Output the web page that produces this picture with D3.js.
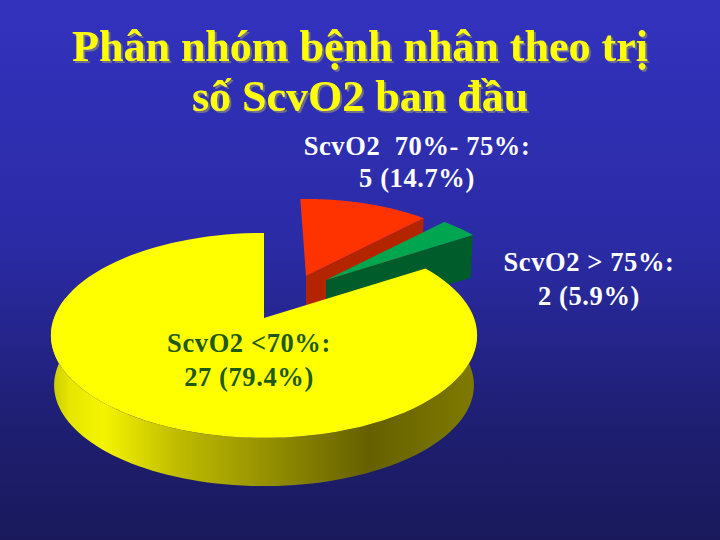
<!DOCTYPE html>
<html><head><meta charset="utf-8">
<style>html,body{margin:0;padding:0;background:#222288}svg{display:block}
text{font-family:"Liberation Serif",serif;font-weight:bold;text-anchor:middle}</style>
<script src="https://cdn.jsdelivr.net/npm/d3@7"></script></head>
<body><svg id="c" width="720" height="540"></svg>
<script>
const titleLines = ["Phân nhóm bệnh nhân theo trị", "số ScvO2 ban đầu"];
const categories = ["ScvO2  70%- 75%:", "ScvO2 > 75%:", "ScvO2 <70%:"];
const counts = [5, 2, 27];
const percents = ["14.7%", "5.9%", "79.4%"];

const svg = d3.select("#c");
const defs = svg.append("defs");
const bg = defs.append("linearGradient").attr("id","bg").attr("x1",0).attr("x2",0).attr("y1",0).attr("y2",1);
[[0,"#3232be"],[0.45,"#2b2ba6"],[0.8,"#1e1e70"],[1,"#19195c"]].forEach(s=>bg.append("stop").attr("offset",s[0]).attr("stop-color",s[1]));
svg.append("rect").attr("width",720).attr("height",540).attr("fill","url(#bg)");

const wall = defs.append("linearGradient").attr("id","wall").attr("gradientUnits","userSpaceOnUse")
  .attr("x1",48).attr("x2",476).attr("y1",0).attr("y2",0);
[[0,"#c4c400"],[0.05,"#e6e600"],[0.13,"#f4f400"],[0.3,"#c0bc00"],[0.55,"#8c8800"],[0.75,"#666000"],[1,"#7f7b00"]]
  .forEach(s=>wall.append("stop").attr("offset",s[0]).attr("stop-color",s[1]));

// Perspective projection of the pie disc
const C = {x:264, y:318, rx:210, ry:99.5, k:0.17};
const deg = Math.PI/180;
// The source chart's 3D view distorts the angles: map pie angle to drawn angle
const warp = d3.scaleLinear().domain([0,53,74,360].map(d=>d*deg)).range([-2,44,57,360].map(d=>d*deg));
function proj(a, r, s){
  const X = Math.sin(a)*r, Y = Math.cos(a)*r, w = 1 + C.k*Y;
  return [s.x + C.rx*s.scale*X/w, s.y - C.ry*s.scale*Y/w];
}
function down(s, d, shrink){ return {x:s.x, y:s.y+d, scale:s.scale*shrink}; }
const line = d3.line();
function arcPts(a0,a1,s){ return d3.range(0,101).map(i=>proj(a0+(a1-a0)*i/100,1,s)); }

const pie = d3.pie().sort(null).value(d=>d);
const arcs = pie(counts);
const sliceStyle = [
  {top:"#ff3300", side:"#b32400", x:306, y:276, scale:.906, depth:44},
  {top:"#00a64f", side:"#005c2b", x:326, y:280, scale:.91,  depth:42},
  {top:"#ffff00", side:"url(#wall)", x:264, y:318, scale:1, depth:50}
];
const g = svg.append("g");
arcs.forEach((d,i)=>{
  const st = sliceStyle[i];
  const a0 = warp(d.startAngle), a1 = warp(d.endAngle);
  const lo = down(st, st.depth, .985);
  const top = arcPts(a0,a1,st);
  if(i<2){
    const e = proj(a1,1,st), eb = proj(a1,1,lo), c = [st.x,st.y], cb=[lo.x,lo.y];
    g.append("path").attr("d",line([c,e,eb,cb])+"Z").attr("fill",st.side);
  } else {
    const f0 = 80*deg, f1 = 282*deg;
    const upper = arcPts(f0,f1,st), lower = arcPts(f0,f1,lo).reverse();
    g.append("path").attr("d",line(upper.concat(lower))+"Z").attr("fill",st.side);
  }
  g.append("path").attr("d",line([[st.x,st.y]].concat(top))+"Z").attr("fill",st.top);
});

// title: shadow drawn as a stroke-free offset copy via a filter, so the text is not doubled
const sh = defs.append("filter").attr("id","ts").attr("x","-5%").attr("y","-10%").attr("width","110%").attr("height","130%");
sh.append("feDropShadow").attr("dx",2).attr("dy",2).attr("stdDeviation",0.4).attr("flood-color","#70708a");
[[titleLines[0],61],[titleLines[1],111]].forEach(t=>{
  svg.append("text").attr("x",360).attr("y",t[1]).attr("font-size",44).attr("fill","#ffff00").attr("filter","url(#ts)").text(t[0]);
});
// labels
const labelPos = [{x:417,y:[155,187],c:"#ffffff"},{x:589,y:[271,305],c:"#ffffff"},{x:249,y:[352,386],c:"#1f5a14"}];
categories.forEach((c,i)=>{
  const p = labelPos[i];
  svg.append("text").attr("x",p.x).attr("y",p.y[0]).attr("font-size",26.5).attr("letter-spacing",.6).attr("fill",p.c).style("white-space","pre").text(c);
  svg.append("text").attr("x",p.x).attr("y",p.y[1]).attr("font-size",26.5).attr("letter-spacing",.6).attr("fill",p.c).text(counts[i]+" ("+percents[i]+")");
});
</script></body></html>
